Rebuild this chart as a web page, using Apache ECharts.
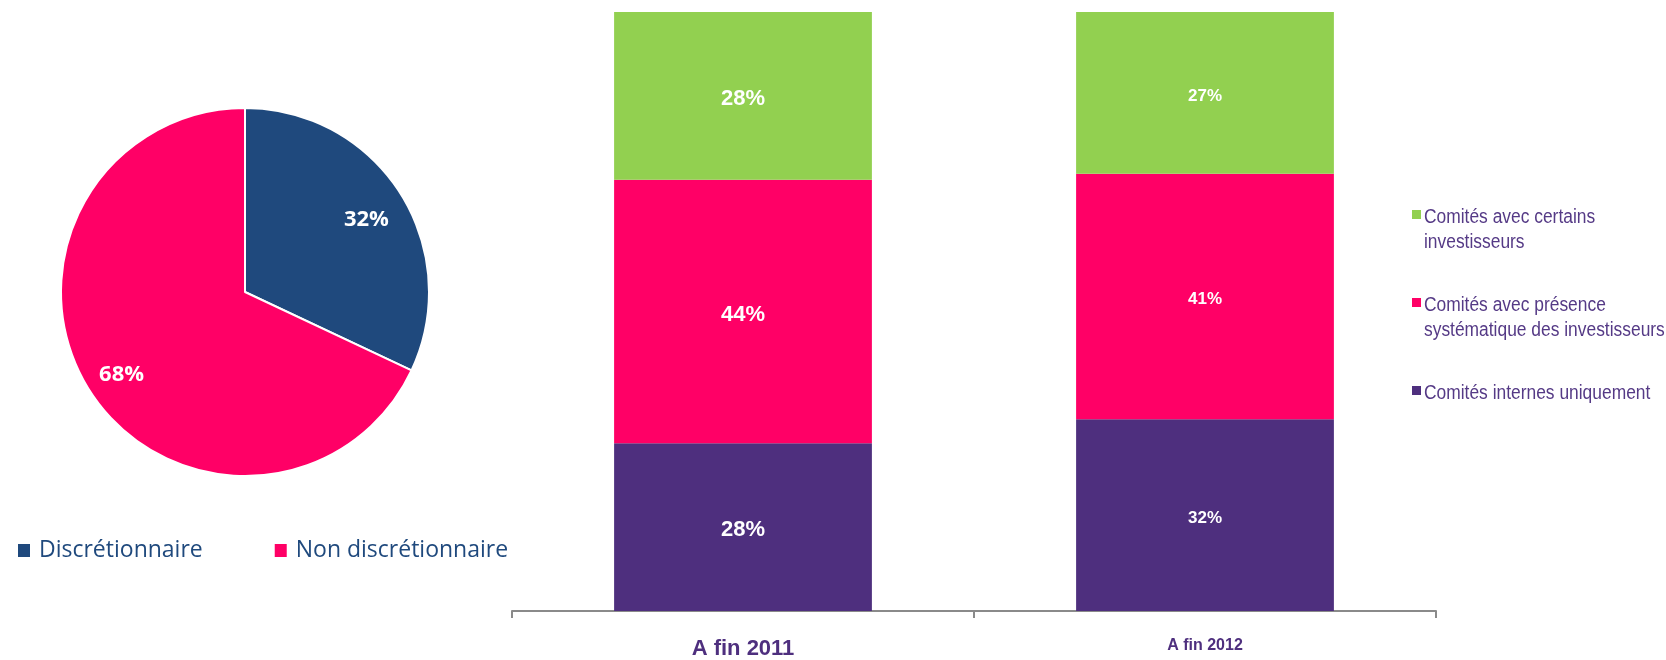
<!DOCTYPE html>
<html>
<head>
<meta charset="utf-8">
<title>Comités</title>
<script src="https://cdn.jsdelivr.net/npm/echarts@6/dist/echarts.min.js"></script>
<style>
  html, body { margin: 0; padding: 0; background: #ffffff; }
  #chart { width: 1666px; height: 660px; }
</style>
</head>
<body>
<div id="chart"></div>
<script>
// Pie: type de gestion
const pieCategories = ['Discrétionnaire', 'Non discrétionnaire'];
const pieValues = [32, 68];

// Stacked bars: organisation des comités (bottom to top)
const years = ['A fin 2011', 'A fin 2012'];
const seriesNames = [
  'Comités internes uniquement',
  'Comités avec présence\nsystématique des investisseurs',
  'Comités avec certains\ninvestisseurs'
];
const internes = [28, 32];
const presence = [44, 41];
const certains = [28, 27];

const pieColors = ['#1f497d', '#ff0066'];
const barColors = ['#4e2f7e', '#ff0066', '#92d050'];
const textPurple = '#4e2f7e';
const sans = '"Liberation Sans", Arial, sans-serif';
const pieFont = '"Open Sans", "Noto Sans", sans-serif';

// Each year has its own label typography
const yearLabelStyle = [
  { fontSize: 22, fontWeight: 'bold', fontFamily: sans },
  { fontSize: 17, fontWeight: 'bold', fontFamily: sans }
];

const barValues = [internes, presence, certains];

const barSeries = barValues.map((vals, s) => ({
  name: seriesNames[s],
  type: 'bar',
  stack: 'total',
  barWidth: '55.8%',
  itemStyle: { color: barColors[s] },
  data: vals.map((v, i) => ({
    value: v,
    label: Object.assign({ show: true, position: 'inside', color: '#ffffff', offset: [0, 3],
      formatter: p => p.value + '%' }, yearLabelStyle[i])
  }))
}));

const pieData = pieCategories.map((n, i) => ({ name: n, value: pieValues[i] }));

// Right-hand key, built from the series names and colours (top = last stacked)
const keyGraphics = [];
const keyOrder = [2, 1, 0];
keyOrder.forEach((s, k) => {
  const top = 210 + k * 88;
  keyGraphics.push({
    type: 'rect', x: 1412, y: top,
    shape: { x: 0, y: 0, width: 9, height: 9 },
    style: { fill: barColors[s] }, silent: true
  });
  keyGraphics.push({
    type: 'text', x: 1424, y: top - 5,
    scaleX: 0.87,
    style: {
      x: 0, y: 0,
      text: seriesNames[s], fill: '#553a86',
      font: '20px ' + sans, lineHeight: 25,
      verticalAlign: 'top'
    }, silent: true
  });
});

const chart = echarts.init(document.getElementById('chart'), null, { renderer: 'canvas' });
chart.setOption({
  animation: false,
  legend: {
    data: pieCategories,
    left: 16, top: 539, padding: 0,
    itemWidth: 14, itemHeight: 15, itemGap: 70,
    icon: 'rect',
    selectedMode: false,
    textStyle: { fontSize: 23, color: '#1f497d', fontFamily: pieFont, padding: [0, 0, 0, 3] }
  },
  grid: { left: 512, right: 230, top: 12, bottom: 49 },
  xAxis: {
    type: 'category',
    data: years,
    axisLine: { lineStyle: { color: '#8a8a8a', width: 2 } },
    axisTick: { show: true, length: 7, lineStyle: { color: '#8a8a8a', width: 2 } },
    axisLabel: {
      margin: 26,
      formatter: (v, i) => (i === 0 ? '{a|' + v + '}' : '{b|' + v + '}'),
      rich: {
        a: { fontSize: 22, fontWeight: 'bold', color: textPurple, fontFamily: sans, lineHeight: 24 },
        b: { fontSize: 16, fontWeight: 'bold', color: textPurple, fontFamily: sans, lineHeight: 18 }
      }
    }
  },
  yAxis: { type: 'value', min: 0, max: 100, show: false, splitLine: { show: false } },
  color: pieColors,
  series: [
    {
      type: 'pie',
      name: 'gestion',
      center: [245, 292],
      radius: [0, 184],
      startAngle: 90,
      clockwise: true,
      silent: true,
      label: { show: false },
      labelLine: { show: false },
      itemStyle: { borderColor: '#ffffff', borderWidth: 2 },
      data: pieData.map((d, i) => Object.assign({ itemStyle: { color: pieColors[i] } }, d))
    },
    {
      // transparent ring carrying the percentage labels further out
      type: 'pie',
      name: 'gestion-labels',
      center: [245, 292],
      radius: [100, 184],
      startAngle: 90,
      clockwise: true,
      silent: true,
      itemStyle: { color: 'rgba(0,0,0,0)', borderWidth: 0 },
      label: {
        show: true, position: 'inside', color: '#ffffff', offset: [-1, 5],
        fontSize: 22, fontWeight: 'bold', fontFamily: pieFont,
        formatter: p => p.value + '%'
      },
      labelLine: { show: false },
      data: pieData
    }
  ].concat(barSeries),
  graphic: keyGraphics
});
</script>
</body>
</html>
